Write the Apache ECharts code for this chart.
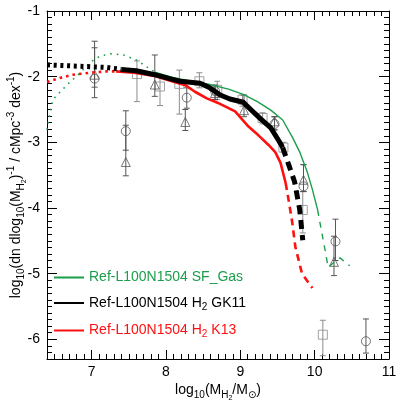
<!DOCTYPE html>
<html>
<head>
<meta charset="utf-8">
<script src="https://cdn.jsdelivr.net/npm/echarts@6/dist/echarts.min.js"></script>
<style>
  html, body { margin: 0; padding: 0; background: #fff; }
  #chart { width: 407px; height: 407px; }
</style>
</head>
<body>
<div id="chart"></div>
<script>
// SF gas curve (dotted / solid / dashed parts)
var gasDotX = [6.40, 6.44, 6.48, 6.57, 6.71, 6.84, 6.98, 7.11, 7.25, 7.43, 7.61, 7.74, 7.85];
var gasDotY = [-2.81, -2.55, -2.35, -2.24, -2.08, -1.95, -1.78, -1.69, -1.65, -1.67, -1.75, -1.85, -1.93];
var gasX = [7.85, 8.09, 8.30, 8.59, 8.84, 9.04, 9.23, 9.41, 9.57, 9.70, 9.80, 9.90, 9.97, 10.04];
var gasY = [-1.93, -2.01, -2.06, -2.12, -2.19, -2.27, -2.38, -2.51, -2.66, -2.92, -3.15, -3.45, -3.72, -4.03];
var gasDashX = [10.04, 10.10, 10.15, 10.18, 10.34, 10.47];
var gasDashY = [-4.03, -4.40, -4.70, -4.90, -4.76, -4.88];

// H2 GK11
var gkDotX = [6.40, 6.80, 7.20, 7.40];
var gkDotY = [-1.82, -1.84, -1.86, -1.89];
var gkX = [7.40, 7.60, 7.85, 8.05, 8.19, 8.46, 8.59, 8.73, 8.86, 9.04, 9.14, 9.27, 9.41, 9.52, 9.57];
var gkY = [-1.89, -1.91, -1.97, -2.03, -2.07, -2.10, -2.17, -2.28, -2.34, -2.39, -2.50, -2.64, -2.78, -2.98, -3.08];
var gkDashX = [9.57, 9.66, 9.73, 9.80, 9.84];
var gkDashY = [-3.08, -3.37, -3.60, -4.03, -4.49];

// H2 K13
var kDotX = [6.40, 6.57, 6.75, 6.98, 7.21, 7.33];
var kDotY = [-2.08, -2.02, -1.97, -1.94, -1.92, -1.92];
var kX = [7.33, 7.57, 7.85, 8.08, 8.26, 8.39, 8.55, 8.70, 8.93, 9.11, 9.24, 9.38, 9.47, 9.54, 9.61];
var kY = [-1.92, -1.94, -1.99, -2.07, -2.13, -2.23, -2.33, -2.40, -2.53, -2.76, -2.89, -3.04, -3.15, -3.31, -3.62];
var kDashX = [9.61, 9.65, 9.70, 9.74, 9.83, 9.97];
var kDashY = [-3.62, -3.88, -4.23, -4.59, -5.00, -5.22];

// observations: circles, triangles, squares (value, lower, upper)
var circX = [7.04, 7.46, 8.28, 8.66, 9.46, 9.85, 10.28, 10.69];
var circY = [-2.03, -2.83, -2.32, -2.22, -2.72, -3.67, -4.51, -6.03];
var circLo = [-2.32, -3.12, -2.48, -2.35, -2.81, -3.75, -4.80, -6.21];
var circHi = [-1.46, -2.52, -2.17, -2.13, -2.61, -3.34, -4.17, -5.69];

var triX = [7.04, 7.46, 7.85, 8.26, 8.66, 9.05, 9.46, 9.85, 10.26];
var triY = [-1.97, -3.30, -2.12, -2.69, -2.25, -2.51, -2.68, -3.57, -4.82];
var triLo = [-2.16, -3.51, -2.30, -2.82, -2.35, -2.61, -2.81, -3.75, -5.03];
var triHi = [-1.56, -2.74, -1.67, -2.50, -2.13, -2.28, -2.61, -3.34, -4.43];

var sqX = [7.61, 7.92, 8.18, 8.45, 8.69, 9.03, 9.30, 9.58, 9.84, 10.11];
var sqY = [-1.96, -2.15, -2.11, -2.07, -2.20, -2.35, -2.63, -3.08, -4.03, -5.93];
var sqLo = [-2.38, -2.44, -2.57, -2.17, -2.35, -2.45, -2.72, -3.15, -4.38, -6.25];
var sqHi = [-1.76, -1.97, -1.90, -1.94, -2.07, -2.28, -2.55, -3.00, -3.75, -5.71];

var xMajor = [7, 8, 9, 10, 11];
var yMajor = [-6, -5, -4, -3, -2, -1];

var xMinor = [];
for (var i = 64; i <= 110; i++) xMinor.push(i / 10);
var yMinor = [];
for (var j = -63; j <= -10; j++) yMinor.push(j / 10);

var FONT = 'Liberation Sans, Arial, DejaVu Sans, sans-serif';
var GREEN = '#1b9e4b', RED = '#ff1010', BLACK = '#000000';
var GREY = '#555555', LIGHTGREY = '#8c8c8c';

var nameGas = 'Ref-L100N1504 SF_Gas';
var nameGK = 'Ref-L100N1504 H2 GK11';
var nameK = 'Ref-L100N1504 H2 K13';

function pairs(xs, ys) {
  return xs.map(function (x, i) { return [x, ys[i]]; });
}
function bars(xs, lo, hi) {
  return xs.map(function (x, i) { return [x, lo[i], hi[i]]; });
}

var rich = {
  n: { fontSize: 14, fontFamily: FONT, color: '#000' },
  s: { fontSize: 10, fontFamily: FONT, color: '#000', padding: [10, 0, 0, 0] },
  ss: { fontSize: 7, fontFamily: FONT, color: '#000', padding: [16, 0, 0, 0] },
  p: { fontSize: 10, fontFamily: FONT, color: '#000', padding: [0, 0, 10, 0] }
};

function axis(dim, pos, ticks, len, labels, line, extra) {
  var a = {
    type: 'value',
    position: pos,
    min: dim === 'x' ? 6.4 : -6.3,
    max: dim === 'x' ? 11 : -1,
    splitLine: { show: false },
    axisLine: { show: line, onZero: false, lineStyle: { color: '#000', width: 1 } },
    axisTick: { show: true, inside: true, length: len, customValues: ticks,
                lineStyle: { color: '#000', width: 1 } },
    axisLabel: labels ? { show: true, customValues: ticks, fontSize: 14, fontFamily: FONT,
                          color: '#000', margin: dim === 'x' ? 6 : 7 } : { show: false }
  };
  return Object.assign(a, extra || {});
}

function renderBar(params, api) {
  var x = api.value(0);
  var lo = api.coord([x, api.value(1)]);
  var hi = api.coord([x, api.value(2)]);
  var w = 3;
  var st = { stroke: api.visual('color'), lineWidth: 1 };
  return {
    type: 'group',
    children: [
      { type: 'line', shape: { x1: lo[0], y1: lo[1], x2: hi[0], y2: hi[1] }, style: st },
      { type: 'line', shape: { x1: lo[0] - w, y1: lo[1], x2: lo[0] + w, y2: lo[1] }, style: st },
      { type: 'line', shape: { x1: hi[0] - w, y1: hi[1], x2: hi[0] + w, y2: hi[1] }, style: st }
    ]
  };
}

function errSeries(data, color) {
  return {
    type: 'custom', renderItem: renderBar, data: data, silent: true, z: 1,
    encode: { x: 0, y: [1, 2] }, itemStyle: { color: color }
  };
}
function ptSeries(data, symbol, color) {
  return {
    type: 'scatter', data: data, symbol: symbol, symbolSize: 9, z: 2, silent: true,
    itemStyle: { color: 'rgba(0,0,0,0)', borderColor: color, borderWidth: 1 }
  };
}
function lineSeries(name, data, color, width, dash, z) {
  return {
    name: name, type: 'line', data: data, showSymbol: false, symbol: 'none',
    smooth: false, z: z, silent: true,
    lineStyle: { color: color, width: width, type: dash, cap: 'butt', join: 'round' },
    itemStyle: { color: color }
  };
}

var chart = echarts.init(document.getElementById('chart'), null, { renderer: 'canvas' });
chart.setOption({
  animation: false,
  backgroundColor: '#fff',
  grid: { left: 47, top: 11, right: 18, bottom: 48, containLabel: false, outerBoundsMode: 'none' },
  legend: {
    orient: 'vertical', left: 53, top: 270.5, itemWidth: 30, itemHeight: 14, itemGap: 11.5,
    padding: 0, selectedMode: false,
    itemStyle: { opacity: 0 },
    data: [
      { name: nameGas, textStyle: { color: GREEN } },
      { name: nameGK, textStyle: { color: BLACK } },
      { name: nameK, textStyle: { color: RED } }
    ],
    formatter: function (name) {
      if (name.indexOf(' H2 ') > 0) {
        var parts = name.split(' H2 ');
        return '{n|' + parts[0] + ' H}{s|2}{n| ' + parts[1] + '}';
      }
      return '{n|' + name + '}';
    },
    textStyle: {
      fontSize: 14, fontFamily: FONT, padding: [0, 0, 0, 0],
      rich: {
        n: { fontSize: 14, fontFamily: FONT },
        s: { fontSize: 10, fontFamily: FONT, padding: [8, 0, 0, 0] }
      }
    }
  },
  xAxis: [
    axis('x', 'bottom', xMajor, 9, true, true, {
      name: '{n|log}{s|10}{n|(M}{s|H}{ss|2}{n|/M}{s|\u2299}{n|)}',
      nameLocation: 'middle', nameGap: 20, nameMoveOverlap: false,
      nameTextStyle: { rich: rich }
    }),
    axis('x', 'bottom', xMinor, 5, false, false),
    axis('x', 'top', xMajor, 9, false, true),
    axis('x', 'top', xMinor, 5, false, false)
  ],
  yAxis: [
    axis('y', 'left', yMajor, 10, true, true, {
      name: '{n|log}{s|10}{n|(dn dlog}{s|10}{n|(M}{s|H}{ss|2}{n|)}{p|-1}{n| / cMpc}{p|-3}{n| dex}{p|-1}{n|)}',
      nameLocation: 'middle', nameGap: 19, nameRotate: 90, nameMoveOverlap: false,
      nameTextStyle: { rich: rich }
    }),
    axis('y', 'left', yMinor, 5, false, false),
    axis('y', 'right', yMajor, 10, false, true),
    axis('y', 'right', yMinor, 5, false, false)
  ],
  series: [
    errSeries(bars(sqX, sqLo, sqHi), LIGHTGREY),
    errSeries(bars(circX, circLo, circHi), GREY),
    errSeries(bars(triX, triLo, triHi), GREY),
    ptSeries(pairs(sqX, sqY), 'rect', LIGHTGREY),
    ptSeries(pairs(circX, circY), 'circle', GREY),
    ptSeries(pairs(triX, triY), 'triangle', GREY),

    lineSeries('gasDot', pairs(gasDotX, gasDotY), GREEN, 1.6, [1.6, 5], 5),
    lineSeries(nameGas, pairs(gasX, gasY), GREEN, 1.4, 'solid', 5),
    lineSeries('gasDash', pairs(gasDashX, gasDashY), GREEN, 1.4, [6, 6], 5),

    lineSeries('kDot', pairs(kDotX, kDotY), RED, 2.6, [2.6, 4], 6),
    lineSeries(nameK, pairs(kX, kY), RED, 2.6, 'solid', 6),
    lineSeries('kDash', pairs(kDashX, kDashY), RED, 2.6, [7, 5], 6),

    lineSeries('gkDot', pairs(gkDotX, gkDotY), BLACK, 5, [3, 3.7], 7),
    lineSeries(nameGK, pairs(gkX, gkY), BLACK, 5, 'solid', 7),
    lineSeries('gkDash', pairs(gkDashX, gkDashY), BLACK, 5, [9, 6], 7)
  ]
});
</script>
</body>
</html>
